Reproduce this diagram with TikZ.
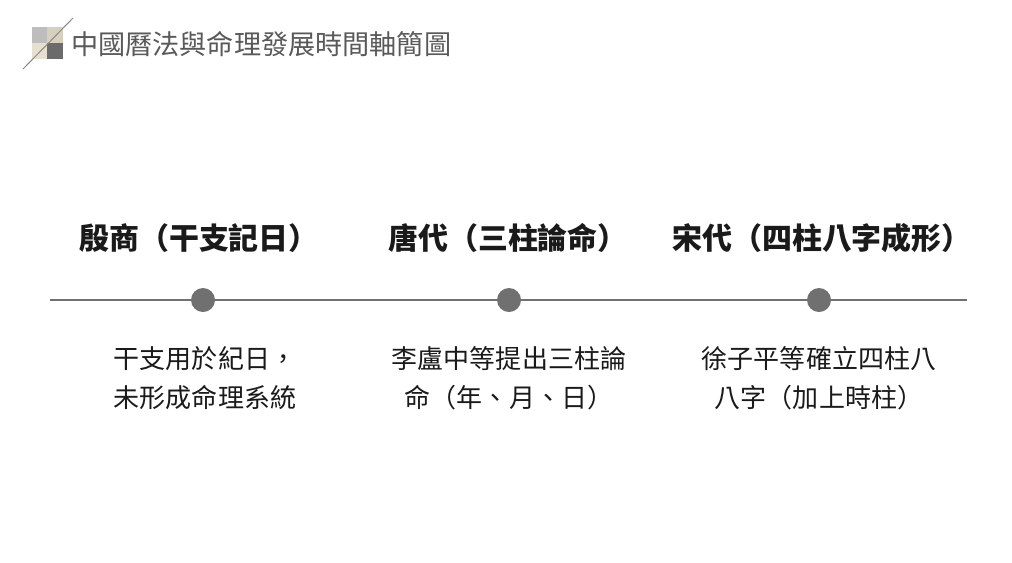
\documentclass[tikz,border=0pt]{standalone}
\usepackage{fontspec}
\setmainfont{Noto Sans CJK TC}
\usepackage{tikz}

\definecolor{axisgrey}{HTML}{707070}
\definecolor{titlegrey}{HTML}{595959}
\definecolor{inkblack}{HTML}{1A1A1A}
\definecolor{logolight}{HTML}{BDBDBD}
\definecolor{logosand}{HTML}{D8D0BF}
\definecolor{logopale}{HTML}{E6E0D2}
\definecolor{logodark}{HTML}{6B6B6B}

\begin{document}
\begin{tikzpicture}[x=0.025cm,y=-0.025cm,
  era/.style={inner sep=0pt, text=inkblack, font=\fontsize{21.3}{25}\selectfont\bfseries},
  note/.style={inner sep=0pt, text=inkblack, align=center, font=\fontsize{18.5}{27.7}\selectfont},
  dot/.style={circle, fill=axisgrey, inner sep=0pt, minimum size=0.6cm}]

\useasboundingbox[fill=white] (0,0) rectangle (1012,562);

% logo and title
\fill[logolight] (32,27) rectangle (47,43);
\fill[logosand]  (47,27) rectangle (63,43);
\fill[logopale]  (32,43) rectangle (47,59);
\fill[logodark]  (47,43) rectangle (63,59);
\draw[line width=0.7pt, color=logodark!70!logosand] (73,18) -- (23,69);
\node[anchor=west, inner sep=0pt, text=titlegrey, font=\fontsize{19.3}{22}\selectfont] (title) at (71,44) {中國曆法與命理發展時間軸簡圖};

% timeline
\coordinate (start) at (50,300);
\coordinate (stop) at (967,300);
\draw[axisgrey, line width=2.1pt] (start) -- (stop);

\node[dot] (d1) at (203,300) {};
\node[dot] (d2) at (509,300) {};
\node[dot] (d3) at (819,300) {};

\node[era] (e1) at (199,238) {殷商（干支記日）};
\node[era] (e2) at (508,238) {唐代（三柱論命）};
\node[era] (e3) at (822,238) {宋代（四柱八字成形）};

\node[note] (n1) at (205,378) {干支用於紀日，\\未形成命理系統};
\node[note] (n2) at (509,378) {李盧中等提出三柱論\\命（年、月、日）};
\node[note] (n3) at (819,378) {徐子平等確立四柱八\\八字（加上時柱）};
\end{tikzpicture}
\end{document}
